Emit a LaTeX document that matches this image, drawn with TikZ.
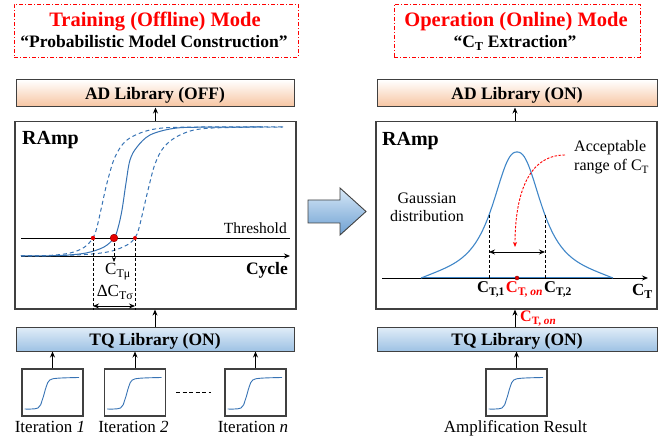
\documentclass[tikz,border=0pt]{standalone}
\usepackage{fontspec}
\setmainfont{Liberation Serif}
\usetikzlibrary{arrows.meta,calc}
\definecolor{bordergray}{RGB}{64,64,64}
\definecolor{curveblue}{RGB}{55,115,180}
\definecolor{gblue}{RGB}{65,135,200}
\definecolor{peach}{RGB}{247,196,160}
\definecolor{tqtop}{RGB}{225,237,248}
\definecolor{tqbot}{RGB}{158,194,228}
\definecolor{artop}{RGB}{215,232,247}
\definecolor{arbot}{RGB}{110,160,210}
\definecolor{dotred}{RGB}{230,0,0}
\newcommand\fs[1]{\fontsize{#1}{#1}\selectfont}
\begin{document}
\begin{tikzpicture}[x=1pt,y=-1pt,
  arr/.style={-{Stealth[length=6pt,width=5pt]}, line width=0.8pt},
  darr/.style={{Stealth[length=6pt,width=5pt]}-{Stealth[length=6pt,width=5pt]}, line width=0.8pt},
  titlebox/.style={draw=red, line width=0.9pt, dash pattern=on 4pt off 2pt on 1pt off 2pt, minimum height=53pt},
  adbox/.style={draw=bordergray, line width=1pt, top color=white, bottom color=peach, minimum height=27pt, text height=12pt, text depth=0pt, font=\fs{17.5}\bfseries},
  tqbox/.style={draw=bordergray, line width=1pt, top color=tqtop, bottom color=tqbot, minimum height=24pt, text height=12pt, text depth=0pt, font=\fs{17.5}\bfseries},
  rampbox/.style={draw=bordergray, line width=1.2pt, minimum width=281pt, minimum height=187.5pt},
  smallbox/.style={draw=bordergray, line width=1.1pt, minimum width=61pt, minimum height=47pt, inner sep=0pt},
  lbl/.style={inner sep=0pt},
  curve/.style={draw=curveblue, line width=1pt},
  dcurve/.style={draw=curveblue, line width=1pt, dash pattern=on 4pt off 3pt},
  vdash/.style={line width=0.8pt, dash pattern=on 3pt off 2pt},
]
\useasboundingbox (0,0) rectangle (665,441);

% ---------- titles ----------
\node[titlebox, minimum width=284pt] (titleL) at (156,30.5) {};
\node[lbl, anchor=base, text=red, font=\fs{20.5}\bfseries] (tL1) at (155,27) {Training (Offline) Mode};
\node[lbl, anchor=base, font=\fs{17.5}\bfseries] (tL2) at (154,48) {“Probabilistic Model Construction”};
\node[titlebox, minimum width=246pt] (titleR) at (517,30.5) {};
\node[lbl, anchor=base, text=red, font=\fs{20.5}\bfseries] (tR1) at (516,27) {Operation (Online) Mode};
\node[lbl, anchor=base, font=\fs{17.5}\bfseries] (tR2) at (515,48) {“C\textsubscript{T} Extraction”};

% ---------- AD boxes ----------
\node[adbox, minimum width=278pt] (adL) at (155,93.5) {AD Library (OFF)};
\node[adbox, minimum width=280pt] (adR) at (517,93.5) {AD Library (ON)};

% ---------- RAmp boxes ----------
\node[rampbox] (rampL) at (155.5,215.25) {};
\node[rampbox] (rampR) at (516.5,215.25) {};
\draw[arr] (rampL.north) -- (rampL.north |- adL.south);
\draw[arr] (515,121.5) coordinate (rRt) -- (rRt |- adR.south);

\node[lbl, anchor=base west, font=\fs{20}\bfseries] (rampLt) at (22,145) {RAmp};
\node[lbl, anchor=base west, font=\fs{20}\bfseries] (rampRt) at (382,146) {RAmp};

% ---------- left plot ----------
\coordinate (thrA) at (21,238);
\coordinate (thrB) at (290,238);
\coordinate (cycA) at (21,256);
\coordinate (cycB) at (290,256);
\draw[line width=0.9pt] (thrA) -- (thrB);
\draw[arr, line width=0.9pt] (cycA) -- (cycB);
\node[lbl, anchor=base east, font=\fs{15.5}] (thrt) at (287,234) {Threshold};
\node[lbl, anchor=base east, font=\fs{17.5}\bfseries] (cyct) at (288,275) {Cycle};

\draw[dcurve] plot[smooth, tension=0.55] coordinates {(21,256) (50,255.4) (70,253) (84,247.5) (93,238) (97,227) (102,205) (107,183) (115,157) (127,140) (150,130) (183,127.2) (283,127)};
\draw[dcurve] plot[smooth, tension=0.55] coordinates {(21,256) (60,255.5) (92,254) (112,251) (127,245) (135,238) (139,228) (144,207) (149,186) (155,164) (164,147) (180,135) (207,128.3) (283,127)};
\draw[curve] plot[smooth, tension=0.55] coordinates {(21,256) (60,255.5) (86,253) (104,247) (114,238) (118,228) (122,210) (126,183) (130,160) (137,147) (150,135) (173,128.5) (200,127.2) (263,127)};

\coordinate (pL) at (93,238);
\coordinate (pM) at (114,238);
\coordinate (pR) at (135,238);
\draw[vdash] (pL) -- (pL |- rampL.south);
\draw[vdash] (pR) -- (pR |- rampL.south);
\draw[vdash, -{Stealth[length=5pt,width=4pt]}] (pM) -- (114,262);
\fill[dotred] (pL) circle (2.2pt);
\fill[dotred] (pR) circle (2pt);
\filldraw[fill=dotred, draw=red!60!black, line width=0.5pt] (pM) circle (3.8pt);

\node[lbl, anchor=base west, font=\fs{17}] (ctmu) at (105,275) {C\textsubscript{Tμ}};
\node[lbl, anchor=base, font=\fs{17}] (dct) at (115,297) {ΔC\textsubscript{Tσ}};
\draw[darr] (93,306) coordinate (dA) -- (135,306) coordinate (dB);

% ---------- big arrow ----------
\draw[draw=bordergray, line width=0.9pt, top color=artop, bottom color=arbot]
  (308,200) -- (340,200) -- (340,188) -- (366,211.5) -- (340,235) -- (340,223) -- (308,223) -- cycle;

% ---------- right plot ----------
\draw[gblue, line width=1.8pt] (421,278) -- (613,278);
\draw[arr, line width=0.9pt] (382,278) coordinate (ctA) -- (648,278) coordinate (ctB);
\draw[gblue, line width=1.1pt] plot[domain=-96:96, samples=120, smooth]
  ({517+\x}, {278 - 126*((1/(1+pow(abs(\x)/28,2.4))) - 0.05*pow(abs(\x)/96,4))});
\draw[vdash] (489,215) -- (489,278);
\draw[vdash] (545,215) -- (545,278);
\draw[darr] (489,252) -- (545,252);
\draw[red, line width=0.9pt, dash pattern=on 2.5pt off 1.5pt, -{Stealth[length=5pt,width=4pt]}]
  (565,155) .. controls (528,155) and (515,195) .. (515,247);
\filldraw[fill=dotred, draw=red!50!black, line width=0.4pt] (517,278) circle (2pt);

\node[lbl, anchor=base west, font=\fs{16}] (acc1) at (574,152) {Acceptable};
\node[lbl, anchor=base west, font=\fs{16}] (acc2) at (574,171) {range of C\textsubscript{T}};
\node[lbl, anchor=base, font=\fs{16}] (gau1) at (427,204) {Gaussian};
\node[lbl, anchor=base, font=\fs{16}] (gau2) at (427,222) {distribution};

\node[lbl, anchor=base, font=\fs{16.5}\bfseries, text=red] (cton) at (524.5,293) {C\textsubscript{T, \textit{on}}};
\node[lbl, anchor=base east, font=\fs{16.5}\bfseries] (ct1) at ([xshift=-0.5pt]cton.base west) {C\textsubscript{T,1}};
\node[lbl, anchor=base west, font=\fs{16.5}\bfseries] (ct2) at ([xshift=0.5pt]cton.base east) {C\textsubscript{T,2}};
\node[lbl, anchor=base east, font=\fs{17}\bfseries] (ctax) at (653,296) {C\textsubscript{T}};

% ---------- TQ boxes ----------
\node[tqbox, minimum width=278pt] (tqL) at (155,339) {TQ Library (ON)};
\node[tqbox, minimum width=280pt] (tqR) at (517,339) {TQ Library (ON)};
\draw[arr] (tqL.north) -- (tqL.north |- rampL.south);
\draw[arr] (515,327) coordinate (tqRt) -- (tqRt |- rampR.south);
\node[lbl, anchor=base west, font=\fs{16}\bfseries, text=red] (ctonarr) at (520,322) {C\textsubscript{T, \textit{on}}};

% ---------- small boxes ----------
\node[smallbox] (it1) at (52.5,392.5) {};
\node[smallbox] (it2) at (135,392.5) {};
\node[smallbox] (itn) at (255.5,392.5) {};
\node[smallbox] (amp) at (516.5,392.5) {};
\foreach \b in {it1,it2,itn,amp}{
  \begin{scope}[shift={(\b.center)}]
    \draw[curve, line width=0.9pt] plot[smooth, tension=0.6] coordinates {(-27.8,16.5) (-14.5,15.5) (-10.2,7.4) (-6.2,-6) (-2.8,-12.4) (5.5,-14.3) (26.5,-15)};
  \end{scope}
  \draw[arr] (\b.north) -- (\b.north |- tqL.south);
}
\draw[line width=0.8pt, dash pattern=on 4pt off 2.5pt] ($(it2.east)+(10,0)$) -- ($(itn.west)+(-13,0)$);

\node[lbl, anchor=base, font=\fs{17}] (it1t) at (50,432) {Iteration \textit{1}};
\node[lbl, anchor=base, font=\fs{17}] (it2t) at (133.5,432) {Iteration \textit{2}};
\node[lbl, anchor=base, font=\fs{17}] (itnt) at (253,432) {Iteration \textit{n}};
\node[lbl, anchor=base, font=\fs{17}] (ampt) at (515.5,432) {Amplification Result};
\end{tikzpicture}
\end{document}
